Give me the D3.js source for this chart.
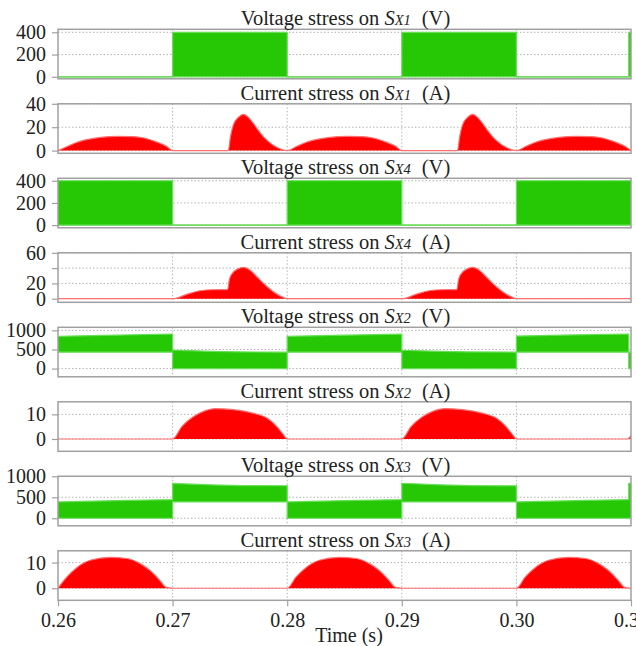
<!DOCTYPE html>
<html>
<head>
<meta charset="utf-8">
<script src="https://cdn.jsdelivr.net/npm/d3@7"></script>
<style>
    body { margin: 0; background: #fff; }
    text { font-family: "Liberation Serif", "DejaVu Serif", serif; fill: #222; }
    .box { fill: none; stroke: #a0a0a0; stroke-width: 1.5px; }
    .grid line { stroke: #b4b4b4; stroke-width: 1px; stroke-dasharray: 1.5,2; }
    .tick line { stroke: #a0a0a0; stroke-width: 1.2px; }
    .tick text { font-family: "Liberation Serif", "DejaVu Serif", serif; font-size: 20px; fill: #222; }
</style>
</head>
<body>
<svg width="636" height="646"></svg>
<script>
// x axis
var timeTicks  = [0.26, 0.27, 0.28, 0.29, 0.30, 0.31];
var timeLabels = ["0.26", "0.27", "0.28", "0.29", "0.30", "0.31"];

// panels, top to bottom
var quantities = ["Voltage", "Current", "Voltage", "Current", "Voltage", "Current", "Voltage", "Current"];
var switches   = ["X1", "X1", "X4", "X4", "X2", "X2", "X3", "X3"];
var units      = ["V", "A", "V", "A", "V", "A", "V", "A"];
var yDomains   = [[-18, 427], [-2.3, 40], [-24, 422], [-4.7, 60], [-215, 1080], [-5, 15.1], [-180, 1000], [-4.7, 14.6]];
var yTicks     = [[0, 200, 400], [0, 20, 40], [0, 200, 400], [0, 20, 40, 60], [0, 500, 1000], [0, 10], [0, 500, 1000], [0, 10]];
var yLabels    = [["0", "200", "400"], ["0", "20", "40"], ["0", "200", "400"], ["0", "20", "", "60"],
                  ["0", "500", "1000"], ["0", "10"], ["0", "500", "1000"], ["0", "10"]];

// voltage envelopes (switching waveform drawn as filled band lo..hi)
var vSx1_t  = [0.26, 0.27, 0.27, 0.28, 0.28, 0.29, 0.29, 0.30, 0.30, 0.3098, 0.3098, 0.31];
var vSx1_hi = [0, 0, 400, 400, 0, 0, 400, 400, 0, 0, 400, 400];
var vSx1_lo = [0, 0, 0, 0, 0, 0, 0, 0, 0, 0, 0, 0];

var vSx4_t  = [0.26, 0.27, 0.27, 0.28, 0.28, 0.29, 0.29, 0.30, 0.30, 0.31];
var vSx4_hi = [400, 400, 0, 0, 400, 400, 0, 0, 400, 400];
var vSx4_lo = [0, 0, 0, 0, 0, 0, 0, 0, 0, 0];

var vSx2_t  = [0.26, 0.265, 0.27, 0.27, 0.2735, 0.276, 0.28, 0.28, 0.285, 0.29, 0.29, 0.2935, 0.296, 0.30, 0.30, 0.305, 0.3098, 0.3098, 0.31];
var vSx2_hi = [845, 875, 905, 484, 450, 435, 430, 845, 875, 900, 480, 450, 435, 430, 850, 880, 905, 430, 430];
var vSx2_lo = [430, 430, 430, 0, 0, 0, 0, 430, 430, 430, 0, 0, 0, 0, 430, 430, 430, 0, 0];

var vSx3_t  = [0.26, 0.265, 0.27, 0.27, 0.2735, 0.276, 0.28, 0.28, 0.285, 0.29, 0.29, 0.2935, 0.296, 0.30, 0.30, 0.305, 0.3098, 0.3098, 0.31];
var vSx3_hi = [390, 420, 445, 830, 795, 780, 775, 390, 420, 445, 834, 795, 780, 773, 390, 420, 445, 834, 834];
var vSx3_lo = [0, 0, 0, 390, 390, 390, 390, 0, 0, 0, 390, 390, 390, 390, 0, 0, 0, 0, 0];

// currents
var iSx1_t = [0.26, 0.2608, 0.2615, 0.2622, 0.2637, 0.2652, 0.2665, 0.2675, 0.2687, 0.2695, 0.27,
              0.27486, 0.27505, 0.2753, 0.27575, 0.2762, 0.27665, 0.27707, 0.2775, 0.27795, 0.2784, 0.27882, 0.2793, 0.28,
              0.2808, 0.2815, 0.2822, 0.2837, 0.2852, 0.2865, 0.2875, 0.2887, 0.2895, 0.29,
              0.29486, 0.29505, 0.2953, 0.29575, 0.2962, 0.29665, 0.29707, 0.2975, 0.29795, 0.2984, 0.29882, 0.2993, 0.30,
              0.3008, 0.3015, 0.3022, 0.3037, 0.3052, 0.3065, 0.3075, 0.3087, 0.3095, 0.31];
var iSx1_v = [0, 3.5, 6.5, 8.7, 11.3, 12.2, 12, 10.8, 7, 3.5, 0,
              0, 12, 22, 28.5, 31, 28, 23, 17, 11.6, 7.5, 4.3, 1.8, 0,
              3.5, 6.5, 8.7, 11.3, 12.2, 12, 10.8, 7, 3.5, 0,
              0, 12, 22, 28.5, 31, 28, 23, 17, 11.6, 7.5, 4.3, 1.8, 0,
              3.5, 6.5, 8.7, 11.3, 12.2, 12, 10.8, 7, 3.5, 0];

var iSx4_t = [0.26, 0.27, 0.2713, 0.2724, 0.2735, 0.2748, 0.27495, 0.2752, 0.2757, 0.2762, 0.2768, 0.2774, 0.2783, 0.2791, 0.2797, 0.28,
              0.29, 0.2913, 0.2924, 0.2935, 0.2948, 0.29495, 0.2952, 0.2957, 0.2962, 0.2968, 0.2974, 0.2983, 0.2991, 0.2997, 0.30, 0.31];
var iSx4_v = [0, 0, 6, 10.4, 11.7, 11.8, 25, 33, 39, 41, 37, 28, 15, 6, 1.5, 0,
              0, 6, 10.4, 11.7, 11.8, 25, 33, 39, 41, 37, 28, 15, 6, 1.5, 0, 0];

var iSx2_t = [0.26, 0.27, 0.2708, 0.2718, 0.2727, 0.2737, 0.2753, 0.2770, 0.2783, 0.2791, 0.2797, 0.28,
              0.29, 0.2908, 0.2918, 0.2927, 0.2937, 0.2953, 0.2970, 0.2983, 0.2991, 0.2997, 0.30, 0.3097, 0.31];
var iSx2_v = [0, 0, 5, 9, 11.2, 12.3, 11.9, 10.5, 8.3, 5, 1.6, 0,
              0, 5, 9, 11.2, 12.3, 11.9, 10.5, 8.3, 5, 1.6, 0, 0, 1.5];

var iSx3_t = [0.26, 0.26076, 0.26163, 0.2628, 0.26455, 0.266, 0.26717, 0.26804, 0.26892, 0.26935, 0.2697, 0.27,
              0.28, 0.28076, 0.28163, 0.2828, 0.28455, 0.286, 0.28717, 0.28804, 0.28892, 0.28935, 0.2897, 0.29,
              0.30, 0.30076, 0.30163, 0.3028, 0.30455, 0.306, 0.30717, 0.30804, 0.30892, 0.30935, 0.3097, 0.31];
var iSx3_v = [0, 4.3, 8, 10.9, 12, 11.6, 9.6, 6.9, 2.9, 0.6, 0.2, 0,
              0, 4.3, 8, 10.9, 12, 11.6, 9.6, 6.9, 2.9, 0.6, 0.2, 0,
              0, 4.3, 8, 10.9, 12, 11.6, 9.6, 6.9, 2.9, 0.6, 0.2, 0];

var series = [
    {type: "band", t: vSx1_t, hi: vSx1_hi, lo: vSx1_lo},
    {type: "area", t: iSx1_t, v: iSx1_v},
    {type: "band", t: vSx4_t, hi: vSx4_hi, lo: vSx4_lo},
    {type: "area", t: iSx4_t, v: iSx4_v},
    {type: "band", t: vSx2_t, hi: vSx2_hi, lo: vSx2_lo},
    {type: "area", t: iSx2_t, v: iSx2_v},
    {type: "band", t: vSx3_t, hi: vSx3_hi, lo: vSx3_lo},
    {type: "area", t: iSx3_t, v: iSx3_v}
];

var green = "#26c806", greenLine = "#6ade5a";
var red = "#ff0000", redLine = "#ff7070";

var svg = d3.select("svg");
var left = 58, right = 631;
var top0 = 29.3, step = 74.5, panelH = 49.5;

var x = d3.scaleLinear().domain([0.26, 0.31]).range([left, right]);

series.forEach(function(s, i) {
    var top = top0 + i * step;
    var y = d3.scaleLinear().domain(yDomains[i]).range([top + panelH, top]);
    var g = svg.append("g");

    // clip to the box
    svg.append("clipPath").attr("id", "clip" + i)
        .append("rect").attr("x", left).attr("y", top).attr("width", right - left).attr("height", panelH);

    // grid
    var grid = g.append("g").attr("class", "grid");
    grid.selectAll(".h").data(yTicks[i]).enter().append("line")
        .attr("x1", left).attr("x2", right)
        .attr("y1", function(d) { return y(d); }).attr("y2", function(d) { return y(d); });
    grid.selectAll(".v").data(timeTicks.slice(1, 5)).enter().append("line")
        .attr("y1", top).attr("y2", top + panelH)
        .attr("x1", function(d) { return x(d); }).attr("x2", function(d) { return x(d); });

    var plot = g.append("g").attr("clip-path", "url(#clip" + i + ")");
    var pts = s.t.map(function(t, k) {
        return s.type === "band" ? {t: t, hi: s.hi[k], lo: s.lo[k]} : {t: t, v: s.v[k]};
    });

    if (s.type === "band") {
        plot.append("path").datum(pts)
            .attr("fill", green)
            .attr("d", d3.area().x(function(d) { return x(d.t); })
                .y0(function(d) { return y(d.lo); }).y1(function(d) { return y(d.hi); }));
        ["hi", "lo"].forEach(function(k) {
            plot.append("path").datum(pts)
                .attr("fill", "none").attr("stroke", greenLine).attr("stroke-width", 1.2)
                .attr("d", d3.line().x(function(d) { return x(d.t); }).y(function(d) { return y(d[k]); }));
        });
    } else {
        plot.append("path").datum(pts)
            .attr("fill", red)
            .attr("d", d3.area().curve(d3.curveMonotoneX).x(function(d) { return x(d.t); })
                .y0(y(0)).y1(function(d) { return y(d.v); }));
        plot.append("path").datum(pts)
            .attr("fill", "none").attr("stroke", redLine).attr("stroke-width", 1.2)
            .attr("d", d3.line().curve(d3.curveMonotoneX).x(function(d) { return x(d.t); }).y(function(d) { return y(d.v); }));
    }

    // left axis
    var labels = yLabels[i];
    var ax = g.append("g").attr("transform", "translate(" + left + ",0)")
        .call(d3.axisLeft(y).tickValues(yTicks[i]).tickSize(6).tickPadding(6)
            .tickFormat(function(d, k) { return labels[k]; }));
    ax.attr("font-family", null).attr("font-size", null);
    ax.select(".domain").remove();

    g.append("rect").attr("class", "box")
        .attr("x", left).attr("y", top).attr("width", right - left).attr("height", panelH);

    // title
    var title = g.append("text")
        .attr("x", (left + right) / 2 + 1).attr("y", top - 4)
        .attr("text-anchor", "middle")
        .style("font-size", "20.5px");
    title.append("tspan").text(quantities[i] + " stress on ");
    title.append("tspan").style("font-style", "italic").text("S");
    title.append("tspan").style("font-style", "italic").style("font-size", "14.5px").text(switches[i]);
    title.append("tspan").attr("dx", 11).text("(" + units[i] + ")");

    // bottom axis on last panel
    if (i === series.length - 1) {
        var bx = g.append("g").attr("transform", "translate(0," + (top + panelH) + ")")
            .call(d3.axisBottom(x).tickValues(timeTicks).tickSize(6).tickPadding(7)
                .tickFormat(function(d, k) { return timeLabels[k]; }));
        bx.attr("font-family", null).attr("font-size", null);
        bx.select(".domain").remove();
        svg.append("text")
            .attr("x", 349).attr("y", 642)
            .attr("text-anchor", "middle")
            .style("font-size", "20px")
            .text("Time (s)");
    }
});
</script>
</body>
</html>
